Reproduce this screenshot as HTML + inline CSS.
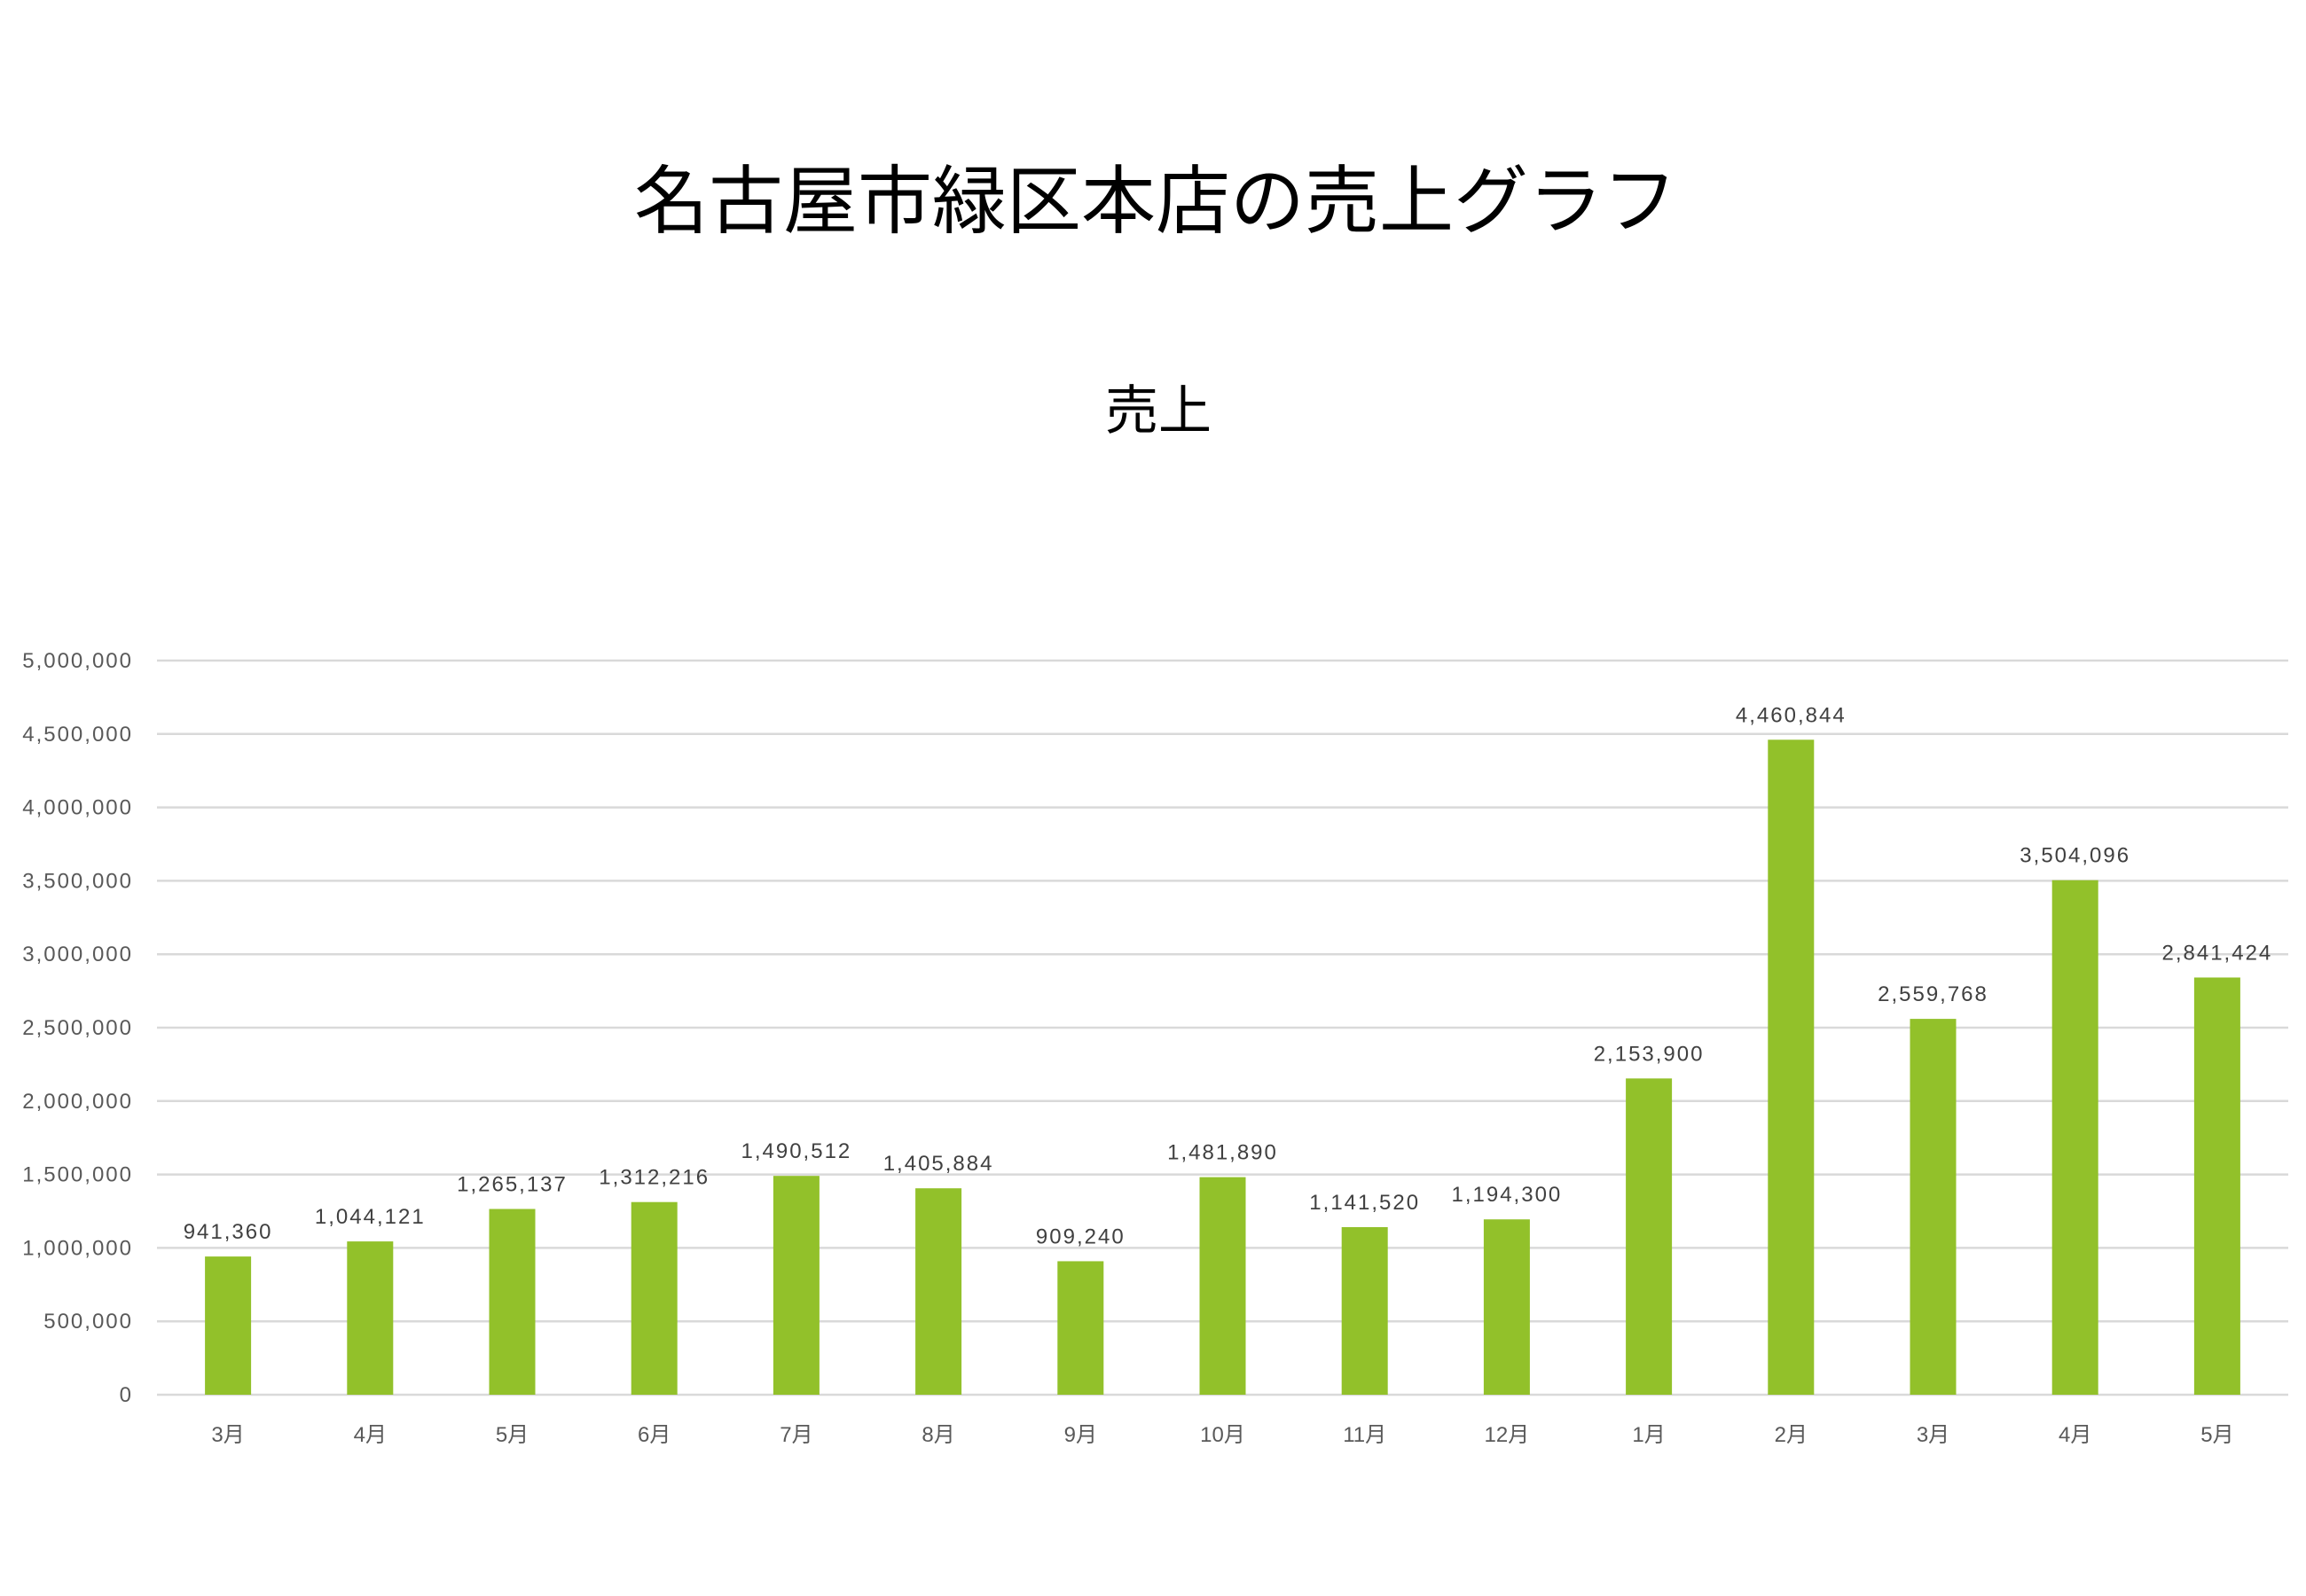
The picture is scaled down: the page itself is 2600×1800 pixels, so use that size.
<!DOCTYPE html>
<html><head><meta charset="utf-8"><style>
html,body{margin:0;padding:0;background:#fff;}
svg{display:block;}
text{font-family:"Liberation Sans","Noto Sans CJK JP",sans-serif;}
</style></head><body>
<svg id="chart" width="2600" height="1800" viewBox="0 0 2600 1800">
<text x="1303" y="256" font-size="84" text-anchor="middle" fill="#000">名古屋市緑区本店の売上グラフ</text>
<text x="1306" y="484" font-size="60" text-anchor="middle" fill="#000">売上</text>
<g id="grid"></g><g id="bars"></g><g id="labels"></g>
</svg>
<script>
const categories=["3月","4月","5月","6月","7月","8月","9月","10月","11月","12月","1月","2月","3月","4月","5月"];
const sales=[941360,1044121,1265137,1312216,1490512,1405884,909240,1481890,1141520,1194300,2153900,4460844,2559768,3504096,2841424];
const yTicks=[0,500000,1000000,1500000,2000000,2500000,3000000,3500000,4000000,4500000,5000000];
const NS="http://www.w3.org/2000/svg";
const L=177,R=2580,T=745,B=1573,yMax=5000000;
const y=v=>B-(v/yMax)*(B-T);
const bw=(R-L)/categories.length;
const x=i=>L+bw*(i+0.5);
const fmt=v=>v.toLocaleString("en-US");
const grid=document.getElementById("grid"),bars=document.getElementById("bars"),labels=document.getElementById("labels");
function mk(tag,attrs,parent,txt){const e=document.createElementNS(NS,tag);for(const k in attrs)e.setAttribute(k,attrs[k]);if(txt!==undefined)e.textContent=txt;parent.appendChild(e);return e;}
yTicks.forEach(t=>{
  const ln=mk("line",{x1:L,x2:R,y1:y(t),y2:y(t),stroke:"#d9d9d9","stroke-width":2.5},grid);
  
  
  const tx=mk("text",{x:150,y:y(t)+8,"font-size":24,"letter-spacing":2,"text-anchor":"end",fill:"#595959"},grid,fmt(t));
  
  
});
sales.forEach((v,i)=>{
  const w=52;
  const r=mk("rect",{x:x(i)-w/2,y:y(v),width:w,height:B-y(v),fill:"#92c12a"},bars);
  
  
  const dl=mk("text",{x:x(i),y:y(v)-20,"font-size":24,"letter-spacing":2,"text-anchor":"middle",fill:"#404040"},labels,fmt(v));
  
  
  const xl=mk("text",{x:x(i),y:1626,"font-size":24,"text-anchor":"middle",fill:"#595959"},labels,categories[i]);
  
  
});
</script>
</body></html>
